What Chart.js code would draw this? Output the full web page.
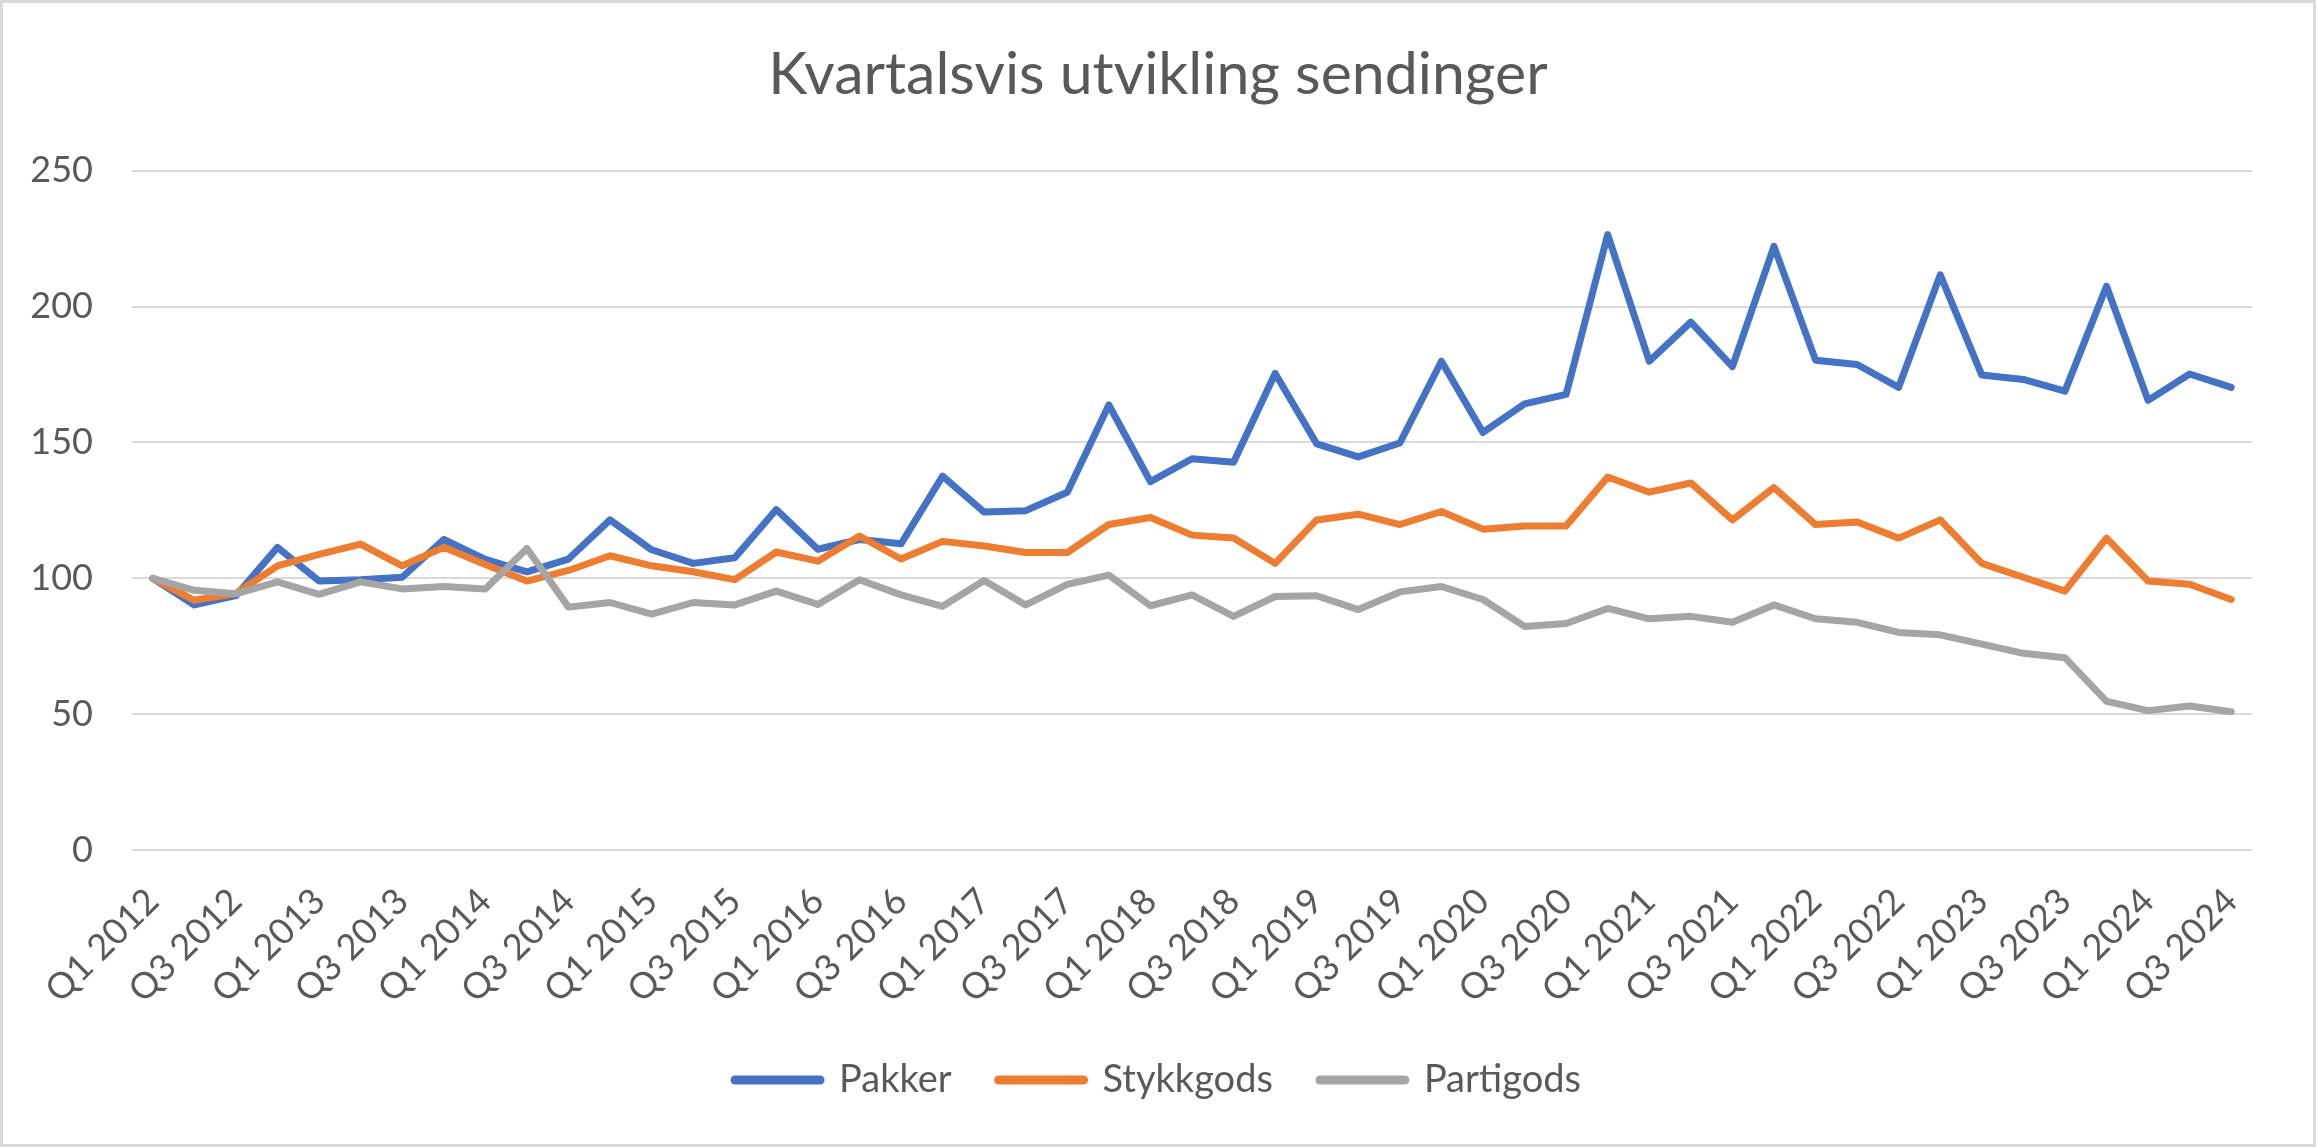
<!DOCTYPE html>
<html lang="no">
<head>
    <meta charset="UTF-8">
    <title>Kvartalsvis utvikling sendinger</title>
    <style>
        body {
    margin: 0;
    background-color: #ffffff;
}

#wrap {
    width: 2316px;
    height: 1147px;
    box-sizing: border-box;
    border: 3px solid #d9d9d9;
    background-color: #ffffff;
}

#chart {
    display: block;
}
    </style>
</head>
<body>
    <div id="wrap"><canvas id="chart"></canvas></div>

    <script src="https://cdn.jsdelivr.net/npm/chart.js"></script>
    <script>
// Kvartaler (kategorier)
const quarters = [
    "Q1 2012", "Q2 2012", "Q3 2012", "Q4 2012",
    "Q1 2013", "Q2 2013", "Q3 2013", "Q4 2013",
    "Q1 2014", "Q2 2014", "Q3 2014", "Q4 2014",
    "Q1 2015", "Q2 2015", "Q3 2015", "Q4 2015",
    "Q1 2016", "Q2 2016", "Q3 2016", "Q4 2016",
    "Q1 2017", "Q2 2017", "Q3 2017", "Q4 2017",
    "Q1 2018", "Q2 2018", "Q3 2018", "Q4 2018",
    "Q1 2019", "Q2 2019", "Q3 2019", "Q4 2019",
    "Q1 2020", "Q2 2020", "Q3 2020", "Q4 2020",
    "Q1 2021", "Q2 2021", "Q3 2021", "Q4 2021",
    "Q1 2022", "Q2 2022", "Q3 2022", "Q4 2022",
    "Q1 2023", "Q2 2023", "Q3 2023", "Q4 2023",
    "Q1 2024", "Q2 2024", "Q3 2024"
];

// Indeks, Q1 2012 = 100
const pakker = [
    100, 90.2, 93.6, 111.4, 99, 99.5, 100.4, 114.3, 107, 102.4, 107.1, 121.5, 110.5, 105.5, 107.6, 125.3, 110.7,
    114.3, 112.7, 137.6, 124.4, 124.9, 131.7, 163.8, 135.6, 144.0, 142.7, 175.4, 149.5, 144.7, 149.8, 179.9, 153.7, 164.2,
    167.7, 226.5, 179.9, 194.3, 177.9, 222.2, 180.3, 178.7, 170.3, 211.7, 174.8, 173.2, 168.9, 207.5, 165.5, 175.2, 170.3
];
const stykkgods = [
    100, 91.9, 94.4, 104.6, 108.8, 112.6, 104.6, 111.4, 105.1, 99, 102.9, 108.3, 104.6, 102.4, 99.5, 109.7, 106.3,
    115.6, 107.1, 113.6, 111.9, 109.5, 109.5, 119.8, 122.4, 115.9, 114.8, 105.5, 121.5, 123.6, 119.8, 124.6, 118.1, 119.3,
    119.3, 137.3, 131.7, 135.1, 121.5, 133.4, 119.8, 120.7, 114.8, 121.5, 105.5, 100.4, 95.3, 114.8, 99, 97.8, 92.2
];
const partigods = [
    100, 95.6, 94.3, 98.7, 94.1, 98.7, 96.1, 97, 96.1, 111, 89.4, 91.1, 86.8, 91.1, 90.2, 95.3, 90.4,
    99.5, 93.9, 89.7, 99.2, 90.2, 97.8, 101.2, 89.9, 93.9, 86, 93.3, 93.6, 88.5, 95, 97, 92.2, 82.3,
    83.4, 88.9, 85.1, 86, 83.8, 90.2, 85.1, 83.8, 80.1, 79.2, 75.8, 72.4, 70.8, 54.7, 51.3, 53, 50.9
];

const textColor = "#595959";
const fontFamily = "Lato, 'Open Sans', sans-serif";

function lineSet(label, data, color, order) {
    return {
        label: label,
        data: data,
        borderColor: color,
        backgroundColor: color,
        borderWidth: 7,
        borderJoinStyle: "round",
        borderCapStyle: "round",
        pointRadius: 0,
        pointHoverRadius: 0,
        tension: 0,
        fill: false,
        order: order
    };
}

const ctx = document.getElementById("chart").getContext("2d");
new Chart(ctx, {
    type: "line",
    data: {
        labels: quarters,
        datasets: [
            lineSet("Pakker", pakker, "#4472c4", 3),
            lineSet("Stykkgods", stykkgods, "#ed7d31", 2),
            lineSet("Partigods", partigods, "#a5a5a5", 1)
        ]
    },
    options: {
        responsive: true,
        maintainAspectRatio: false,
        animation: false,
        layout: { padding: { left: 0, right: 0, top: 0, bottom: 35 } },
        plugins: {
            title: {
                display: true,
                text: "Kvartalsvis utvikling sendinger",
                color: textColor,
                font: { family: fontFamily, size: 59, weight: "normal" },
                padding: { top: 37, bottom: 60 }
            },
            legend: {
                position: "bottom",
                labels: {
                    usePointStyle: true,
                    pointStyle: "line",
                    pointStyleWidth: 85,
                    padding: 47,
                    color: textColor,
                    font: { family: fontFamily, size: 38 },
                    generateLabels: function(chart) {
                        const items = Chart.defaults.plugins.legend.labels.generateLabels(chart);
                        items.forEach(function(it) {
                            it.lineWidth = 9;
                            it.lineCap = "round";
                            it.pointStyle = "line";
                        });
                        return items.sort(function(a, b) { return a.datasetIndex - b.datasetIndex; });
                    }
                }
            },
            tooltip: { enabled: false }
        },
        scales: {
            x: {
                offset: true,
                grid: { display: false, drawTicks: false },
                border: { display: false },
                ticks: {
                    autoSkip: false,
                    minRotation: 45,
                    maxRotation: 45,
                    padding: 30,
                    color: textColor,
                    font: { family: fontFamily, size: 36 },
                    callback: function(value, index) {
                        return index % 2 === 0 ? this.getLabelForValue(value) : "";
                    }
                },
                afterFit: function(scale) { scale.height = 164; }
            },
            y: {
                min: 0,
                max: 250,
                ticks: {
                    stepSize: 50,
                    padding: 39,
                    color: textColor,
                    font: { family: fontFamily, size: 36 }
                },
                grid: { color: "#d9d9d9", lineWidth: 2, drawTicks: false },
                border: { display: false },
                afterFit: function(scale) { scale.width = 129; }
            },
            // empty right margin so the plot ends where the original does
            margin: {
                position: "right",
                grid: { display: false, drawTicks: false },
                border: { display: false },
                ticks: { display: false },
                afterFit: function(scale) { scale.width = 61; }
            }
        }
    }
});
    </script>
</body>
</html>
